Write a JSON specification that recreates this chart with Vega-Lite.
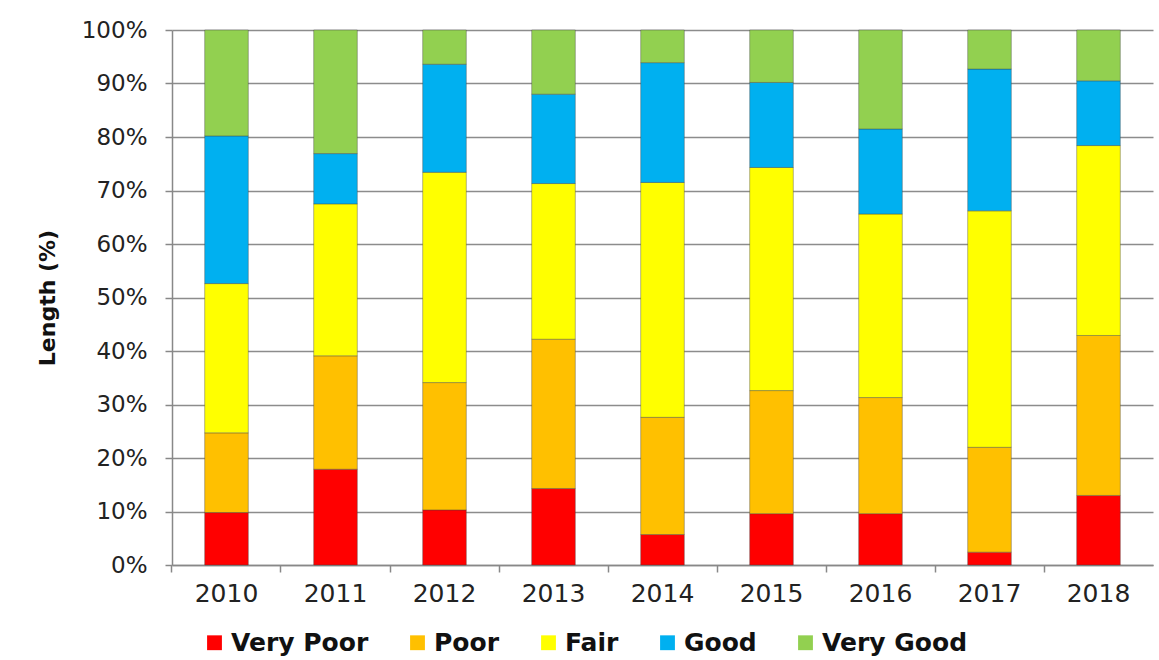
{
  "$schema": "https://vega.github.io/schema/vega-lite/v6.json",
  "width": 981,
  "height": 535,
  "autosize": {"type": "none"},
  "padding": {"left": 172, "top": 30, "right": 6, "bottom": 95},
  "background": "white",
  "config": {
    "view": {"stroke": null},
    "font": "DejaVu Sans"
  },
  "data": {
    "values": [
      {"year": "2010", "condition": "Very Poor", "ord": 1, "pct": 9.8},
      {"year": "2010", "condition": "Poor", "ord": 2, "pct": 14.9},
      {"year": "2010", "condition": "Fair", "ord": 3, "pct": 27.9},
      {"year": "2010", "condition": "Good", "ord": 4, "pct": 27.6},
      {"year": "2010", "condition": "Very Good", "ord": 5, "pct": 19.8},
      {"year": "2011", "condition": "Very Poor", "ord": 1, "pct": 17.9},
      {"year": "2011", "condition": "Poor", "ord": 2, "pct": 21.2},
      {"year": "2011", "condition": "Fair", "ord": 3, "pct": 28.4},
      {"year": "2011", "condition": "Good", "ord": 4, "pct": 9.4},
      {"year": "2011", "condition": "Very Good", "ord": 5, "pct": 23.1},
      {"year": "2012", "condition": "Very Poor", "ord": 1, "pct": 10.3},
      {"year": "2012", "condition": "Poor", "ord": 2, "pct": 23.8},
      {"year": "2012", "condition": "Fair", "ord": 3, "pct": 39.3},
      {"year": "2012", "condition": "Good", "ord": 4, "pct": 20.2},
      {"year": "2012", "condition": "Very Good", "ord": 5, "pct": 6.4},
      {"year": "2013", "condition": "Very Poor", "ord": 1, "pct": 14.3},
      {"year": "2013", "condition": "Poor", "ord": 2, "pct": 27.9},
      {"year": "2013", "condition": "Fair", "ord": 3, "pct": 29.1},
      {"year": "2013", "condition": "Good", "ord": 4, "pct": 16.7},
      {"year": "2013", "condition": "Very Good", "ord": 5, "pct": 12.0},
      {"year": "2014", "condition": "Very Poor", "ord": 1, "pct": 5.7},
      {"year": "2014", "condition": "Poor", "ord": 2, "pct": 21.9},
      {"year": "2014", "condition": "Fair", "ord": 3, "pct": 43.9},
      {"year": "2014", "condition": "Good", "ord": 4, "pct": 22.4},
      {"year": "2014", "condition": "Very Good", "ord": 5, "pct": 6.1},
      {"year": "2015", "condition": "Very Poor", "ord": 1, "pct": 9.6},
      {"year": "2015", "condition": "Poor", "ord": 2, "pct": 23.0},
      {"year": "2015", "condition": "Fair", "ord": 3, "pct": 41.7},
      {"year": "2015", "condition": "Good", "ord": 4, "pct": 15.9},
      {"year": "2015", "condition": "Very Good", "ord": 5, "pct": 9.8},
      {"year": "2016", "condition": "Very Poor", "ord": 1, "pct": 9.6},
      {"year": "2016", "condition": "Poor", "ord": 2, "pct": 21.7},
      {"year": "2016", "condition": "Fair", "ord": 3, "pct": 34.3},
      {"year": "2016", "condition": "Good", "ord": 4, "pct": 15.9},
      {"year": "2016", "condition": "Very Good", "ord": 5, "pct": 18.5},
      {"year": "2017", "condition": "Very Poor", "ord": 1, "pct": 2.4},
      {"year": "2017", "condition": "Poor", "ord": 2, "pct": 19.6},
      {"year": "2017", "condition": "Fair", "ord": 3, "pct": 44.2},
      {"year": "2017", "condition": "Good", "ord": 4, "pct": 26.5},
      {"year": "2017", "condition": "Very Good", "ord": 5, "pct": 7.3},
      {"year": "2018", "condition": "Very Poor", "ord": 1, "pct": 13.0},
      {"year": "2018", "condition": "Poor", "ord": 2, "pct": 29.9},
      {"year": "2018", "condition": "Fair", "ord": 3, "pct": 35.5},
      {"year": "2018", "condition": "Good", "ord": 4, "pct": 12.1},
      {"year": "2018", "condition": "Very Good", "ord": 5, "pct": 9.5}
    ]
  },
  "mark": {"type": "bar", "stroke": "#444", "strokeWidth": 0.8, "strokeOpacity": 0.5},
  "encoding": {
    "x": {
      "field": "year",
      "type": "nominal",
      "scale": {"paddingInner": 0.6, "paddingOuter": 0.3},
      "axis": {
        "title": null,
        "labelAngle": 0,
        "labelFont": "DejaVu Sans",
        "labelFontSize": 25,
        "labelColor": "#222",
        "labelPadding": 9,
        "domainColor": "#888",
        "domainWidth": 1.5,
        "tickColor": "#888",
        "tickWidth": 1.5,
        "tickSize": 7,
        "bandPosition": -0.75
      }
    },
    "y": {
      "field": "pct",
      "type": "quantitative",
      "stack": "zero",
      "scale": {"domain": [0, 100], "nice": false},
      "axis": {
        "title": "Length (%)",
        "titleFont": "DejaVu Sans",
        "titleFontSize": 22,
        "titleFontWeight": "bold",
        "titleColor": "#111",
        "titlePadding": 22,
        "values": [0, 10, 20, 30, 40, 50, 60, 70, 80, 90, 100],
        "labelExpr": "datum.value + '%'",
        "labelFont": "DejaVu Sans",
        "labelFontSize": 23,
        "labelColor": "#222",
        "labelPadding": 18,
        "grid": true,
        "gridColor": "#8c8c8c",
        "gridWidth": 1.5,
        "domainColor": "#888",
        "domainWidth": 1.5,
        "tickColor": "#888",
        "tickWidth": 1.5,
        "tickSize": 7
      }
    },
    "color": {
      "field": "condition",
      "type": "nominal",
      "sort": ["Very Poor", "Poor", "Fair", "Good", "Very Good"],
      "scale": {
        "domain": ["Very Poor", "Poor", "Fair", "Good", "Very Good"],
        "range": ["#FF0000", "#FFC000", "#FFFF00", "#00B0F0", "#92D050"]
      },
      "legend": {
        "title": null,
        "orient": "none",
        "direction": "horizontal",
        "legendX": 30,
        "legendY": 600,
        "symbolType": "square",
        "symbolSize": 220,
        "symbolStrokeWidth": 0,
        "labelFont": "DejaVu Sans",
        "labelFontSize": 25,
        "labelFontWeight": "bold",
        "labelColor": "#111",
        "labelOffset": 4,
        "columnPadding": 36,
        "labelLimit": 300
      }
    },
    "order": {"field": "ord", "type": "quantitative", "sort": "ascending"}
  }
}
